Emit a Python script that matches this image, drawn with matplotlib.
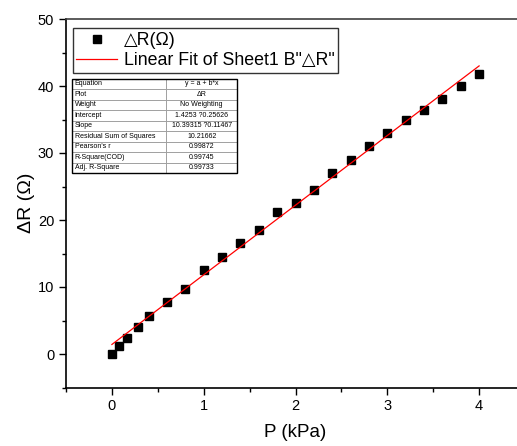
import numpy as np
import matplotlib.pyplot as plt
from matplotlib.ticker import MultipleLocator

plt.rcParams['font.family'] = ['Liberation Sans', 'DejaVu Sans']

# measured data
p_kpa = [0, 0.08, 0.16, 0.28, 0.4, 0.6, 0.8, 1.0, 1.2, 1.4, 1.6, 1.8, 2.0,
         2.2, 2.4, 2.6, 2.8, 3.0, 3.2, 3.4, 3.6, 3.8, 4.0]
delta_r = [0, 1.2, 2.4, 4.1, 5.6, 7.8, 9.7, 12.5, 14.5, 16.5, 18.5, 21.2, 22.5,
           24.5, 27.0, 29.0, 31.0, 33.0, 35.0, 36.4, 38.0, 40.0, 41.8]

# fit parameters as reported
intercept = 1.4253
slope = 10.39315

table_labels = ['Equation', 'Plot', 'Weight', 'Intercept', 'Slope',
                'Residual Sum of Squares', "Pearson's r", 'R-Square(COD)',
                'Adj. R-Square']
table_values = ['y = a + b*x', '\u0394R', 'No Weighting', '1.4253 ?0.25626',
                '10.39315 ?0.11467', '10.21662', '0.99872', '0.99745', '0.99733']

fig = plt.figure(figsize=(5.17, 4.46), dpi=100)
ax = fig.add_axes([66 / 517, 58.5 / 446, 459 / 517, 368.5 / 446])

ax.plot(p_kpa, delta_r, 's', color='black', markersize=5.5, label='\u25b3R(\u03a9)')
xf = np.array([min(p_kpa), max(p_kpa)])
ax.plot(xf, intercept + slope * xf, '-', color='red', lw=0.9,
        label='Linear Fit of Sheet1 B"\u25b3R"')

ax.set_xlim(-0.5, 4.5)
ax.set_ylim(-5, 50)
ax.xaxis.set_major_locator(MultipleLocator(1))
ax.xaxis.set_minor_locator(MultipleLocator(0.5))
ax.yaxis.set_major_locator(MultipleLocator(10))
ax.yaxis.set_minor_locator(MultipleLocator(5))
ax.tick_params(which='both', direction='out', labelsize=10.5, top=False, right=False)
ax.tick_params(which='major', length=5, width=1)
ax.tick_params(which='minor', length=3, width=1)
for s in ['left', 'bottom']:
    ax.spines[s].set_linewidth(1.2)
ax.spines['top'].set_color('#404040')
ax.spines['top'].set_linewidth(1.2)

ax.set_xlabel('P (kPa)', fontsize=13.5, labelpad=8)
ax.set_ylabel('\u0394R (\u03a9)', fontsize=14, labelpad=2)

leg = ax.legend(loc='upper left', bbox_to_anchor=(0.015, 0.975), fontsize=12.8,
                fancybox=False, edgecolor='#333333', framealpha=1,
                borderpad=0.2, handlelength=2.3, handletextpad=0.35,
                labelspacing=0.2, borderaxespad=0)
leg.get_frame().set_linewidth(1.0)

cells = [[a, b] for a, b in zip(table_labels, table_values)]
tbl = ax.table(cellText=cells, bbox=[0.013, 0.582, 0.36, 0.256],
               colWidths=[0.57, 0.43], cellLoc='left')
tbl.auto_set_font_size(False)
tbl.set_fontsize(5)
for (r, c), cell in tbl.get_celld().items():
    cell.set_edgecolor('#999999')
    cell.set_linewidth(0.6)
    cell.PAD = 0.03
    if c == 1:
        cell.get_text().set_ha('center')
        cell._loc = 'center'
# outer border
ax.add_patch(plt.Rectangle((0.013, 0.582), 0.36, 0.256, transform=ax.transAxes,
                           fill=False, edgecolor='black', lw=1.0, zorder=10))

fig.savefig('out.png', dpi=100)
